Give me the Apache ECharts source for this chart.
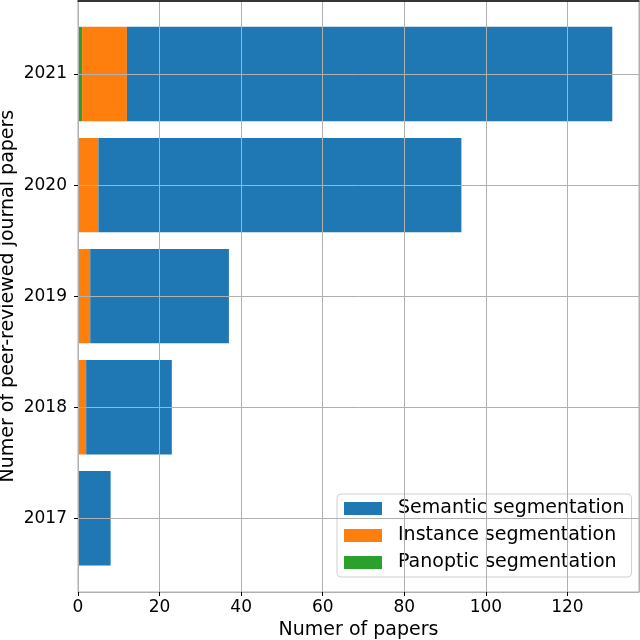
<!DOCTYPE html>
<html>
<head>
<meta charset="utf-8">
<script src="https://cdn.jsdelivr.net/npm/echarts@6/dist/echarts.min.js"></script>
<style>
  html, body { margin: 0; padding: 0; background: #fff; }
  #chart { width: 640px; height: 640px; }
</style>
</head>
<body>
<div id="chart"></div>
<script>
// papers per year, stacked left to right: panoptic, instance, semantic
const years = ['2017', '2018', '2019', '2020', '2021'];
const semantic = [8, 21, 34, 89, 119];
const instance = [0, 2, 3, 5, 11];
const panoptic = [0, 0, 0, 0, 1];
const xTicks = [0, 20, 40, 60, 80, 100, 120];

const xMax = 137.55;
const font = 'DejaVu Sans';
const gridColor = '#b0b0b0';

const chart = echarts.init(document.getElementById('chart'));

const barSeries = (name, data, color) => ({
  name: name,
  type: 'bar',
  stack: 'total',
  xAxisIndex: 1,
  yAxisIndex: 1,
  barWidth: '85%',
  itemStyle: {color: color},
  data: data
});

const option = {
  animation: false,
  textStyle: {fontFamily: font},
  grid: [
    // frame, x ticks and vertical grid lines
    {left: 78, right: 1, top: 1, bottom: 48, containLabel: false, outerBoundsMode: 'none',
      show: true, borderColor: gridColor, borderWidth: 1},
    // bars and year labels
    {left: 78, right: 1, top: 18.5, bottom: 66.2, containLabel: false, outerBoundsMode: 'none'}
  ],
  xAxis: [
    {
      type: 'value',
      gridIndex: 0,
      min: 0,
      max: xMax,
      interval: 20,
      z: 10,
      name: 'Numer of papers',
      nameLocation: 'middle',
      nameGap: 29,
      nameMoveOverlap: false,
      nameTextStyle: {fontSize: 19, color: '#000', fontFamily: font},
      axisLine: {show: true, lineStyle: {color: gridColor, width: 1}},
      axisTick: {show: true, length: 4, lineStyle: {color: '#000'}},
      axisLabel: {
        fontSize: 17, color: '#000', margin: 7, fontFamily: font,
        showMaxLabel: false,
        formatter: v => xTicks.includes(v) ? String(v) : ''
      },
      splitLine: {show: true, lineStyle: {color: gridColor, width: 1}}
    },
    {
      type: 'value',
      gridIndex: 1,
      min: 0,
      max: xMax,
      show: false
    },
    {
      type: 'value',
      gridIndex: 0,
      position: 'top',
      min: 0,
      max: xMax,
      z: 11,
      axisLine: {show: true, lineStyle: {color: '#000', width: 1.5}},
      axisTick: {show: false},
      axisLabel: {show: false},
      splitLine: {show: false}
    }
  ],
  yAxis: [
    {
      type: 'value',
      gridIndex: 0,
      axisLine: {show: false},
      axisTick: {show: false},
      axisLabel: {show: false},
      splitLine: {show: false}
    },
    {
      type: 'category',
      gridIndex: 1,
      data: years,
      name: 'Numer of peer-reviewed journal papers',
      nameLocation: 'middle',
      nameGap: 60,
      nameMoveOverlap: false,
      nameTextStyle: {fontSize: 19, color: '#000', fontFamily: font},
      axisLine: {show: false},
      axisTick: {show: true, alignWithLabel: true, length: 4, lineStyle: {color: '#000'}},
      axisLabel: {fontSize: 17, color: '#000', margin: 11, fontFamily: font},
      splitLine: {show: false}
    }
  ],
  legend: {
    orient: 'vertical',
    left: 337,
    top: 494,
    data: ['Semantic segmentation', 'Instance segmentation', 'Panoptic segmentation'],
    itemWidth: 38,
    itemHeight: 13,
    itemGap: 8,
    padding: [5, 7, 5, 7],
    backgroundColor: 'rgba(255,255,255,0.8)',
    borderColor: '#d0d0d0',
    borderWidth: 1,
    borderRadius: 4,
    icon: 'rect',
    textStyle: {fontSize: 19, color: '#000', fontFamily: font, padding: [0, 0, 0, 11]}
  },
  series: [
    barSeries('Panoptic segmentation', panoptic, '#2ca02c'),
    barSeries('Instance segmentation', instance, '#ff7f0e'),
    Object.assign(barSeries('Semantic segmentation', semantic, '#1f77b4'), {
      markLine: {
        silent: true,
        symbol: 'none',
        label: {show: false},
        lineStyle: {color: gridColor, width: 1, type: 'solid'},
        data: years.map(y => ({yAxis: y}))
      }
    })
  ]
};

chart.setOption(option);
</script>
</body>
</html>
